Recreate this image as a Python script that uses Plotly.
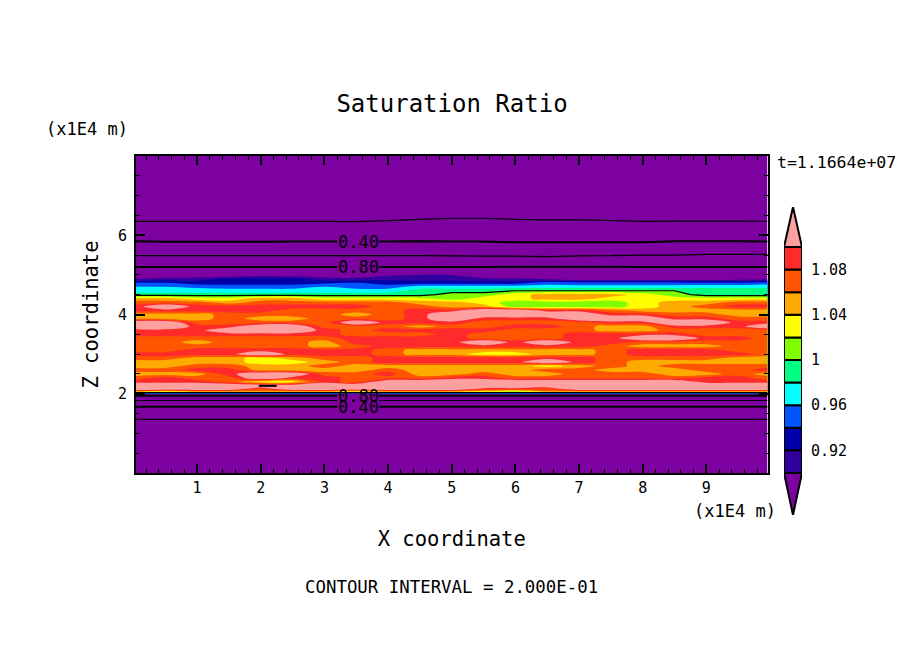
import plotly.graph_objects as go

P, R, O, A, Y, G, S, C, B, D, V = 1.13, 1.09, 1.07, 1.05, 1.03, 1.01, 0.99, 0.97, 0.95, 0.93, 0.91

x_coord = [0.04, 0.5, 1, 1.5, 2, 2.5, 3, 3.5, 4, 4.5, 5, 5.5, 6, 6.5, 7, 7.5, 8, 8.5, 9, 9.5, 9.96]
z_coord = [0, 1.354, 1.67, 1.83, 1.95, 2.03, 2.07, 2.12, 2.2, 2.3, 2.4, 2.5, 2.6, 2.7, 2.8, 2.9, 3.0, 3.1,
           3.2, 3.3, 3.4, 3.5, 3.6, 3.7, 3.8, 3.9, 4.0, 4.1, 4.2, 4.3, 4.4, 4.5, 4.6, 4.7, 4.8, 4.9, 5.0,
           5.1, 5.2, 5.5, 5.85, 6.4, 7.0, 8.0]

z_0 = [0.04] * 21
z_1354 = [0.2] * 21
z_167 = [0.4] * 21
z_183 = [0.6] * 21
z_195 = [0.8] * 21
z_203 = [1.0] * 21
z_207 = [O, A, O, O, O, O, O, A, O, O, O, A, Y, O, O, O, O, O, O, O, O]
z_212 = [P, P, P, P, O, P, P, P, P, P, P, R, R, O, P, P, P, P, P, P, P]
z_220 = [P] * 21
z_230 = [R, R, R, O, Y, Y, R, O, P, P, P, P, P, P, P, P, P, P, R, R, R]
z_240 = [O, R, O, O, P, R, R, O, O, O, R, R, O, O, O, O, O, O, R, R, O]
z_250 = [A, A, A, R, P, P, O, O, R, A, A, O, A, A, O, O, O, A, A, O, A]
z_260 = [O, O, R, R, A, A, A, A, O, A, A, A, A, O, O, A, A, A, O, O, R]
z_270 = [A, A, O, O, A, A, O, A, A, A, A, A, A, Y, A, O, A, O, O, O, O]
z_280 = [A, A, A, A, Y, Y, A, O, R, R, R, R, R, P, R, O, A, A, A, A, A]
z_290 = [O, O, A, A, Y, A, O, O, R, R, R, R, R, R, R, O, O, O, O, A, A]
z_300 = [R, R, R, R, P, R, R, R, O, A, A, Y, Y, A, A, O, R, R, R, R, O]
z_310 = [O, O, R, R, R, R, R, R, O, A, A, A, A, A, A, O, R, R, R, O, O]
z_320 = [O, O, O, O, O, O, A, O, R, R, R, R, R, R, R, O, A, A, A, O, O]
z_330 = [O, O, A, O, O, O, A, R, R, R, R, P, R, P, R, R, O, O, O, O, O]
z_340 = [O, O, O, O, O, O, O, R, R, R, R, O, O, O, R, R, P, P, R, R, O]
z_350 = [R, R, R, R, R, R, R, O, O, O, R, O, O, O, R, R, R, R, O, O, O]
z_360 = [R, R, R, P, P, P, R, O, R, R, R, R, O, O, O, A, A, O, O, O, O]
z_370 = [P, P, R, R, P, P, O, O, O, A, O, O, R, R, O, A, A, R, R, R, P]
z_380 = [P, P, O, O, O, O, O, P, R, R, R, O, O, O, O, R, R, P, P, R, R]
z_390 = [A, A, A, O, A, A, O, O, O, R, P, R, R, R, P, P, P, R, R, O, O]
z_400 = [A, A, A, O, O, O, O, A, O, R, P, P, P, P, P, R, R, O, O, A, A]
z_410 = [R, R, R, R, R, O, O, O, O, R, R, P, P, R, R, O, A, A, A, A, A]
z_420 = [R, P, R, R, R, R, R, R, O, O, A, A, G, G, G, G, Y, A, O, R, R]
z_430 = [O, O, O, A, O, O, O, O, O, A, A, Y, G, G, G, G, Y, A, A, O, O]
z_440 = [A, A, Y, Y, A, A, Y, Y, Y, Y, G, Y, Y, A, A, Y, Y, Y, Y, Y, Y]
z_450 = [S, S, S, S, S, S, S, S, S, S, G, G, Y, A, A, A, Y, G, S, S, S]
z_460 = [C, C, C, C, C, C, C, C, C, S, S, S, 1.0, 1.0, 1.0, 1.0, 1.0, 1.0, S, S, S]
z_470 = [0.96, 0.96, 0.955, B, B, B, 0.96, B, B, C, C, C, C, C, C, C, C, C, 0.975, 0.975, 0.975]
z_480 = [0.94, 0.94, D, D, D, D, 0.935, 0.94, D, D, D, D, D, B, 0.945, 0.945, 0.945, 0.945, 0.94, 0.94, B]
z_490 = [0.90, V, V, 0.925, 0.925, 0.925, V, 0.905, 0.915, V, V, 0.905, 0.905, 0.895, 0.88, 0.88, 0.88, 0.88, 0.885, 0.89, 0.89]
z_500 = [0.87, 0.87, 0.88, 0.88, 0.89, 0.885, 0.88, 0.885, 0.895, 0.90, 0.90, 0.88, 0.87, 0.86, 0.85, 0.85, 0.85, 0.85, 0.85, 0.85, 0.85]
z_510 = [0.84] * 21
z_520 = [0.80, 0.80, 0.80, 0.80, 0.80, 0.80, 0.80, 0.80, 0.80, 0.80, 0.80, 0.80, 0.805, 0.805, 0.805, 0.805, 0.80, 0.80, 0.80, 0.80, 0.80]
z_550 = [0.59, 0.59, 0.59, 0.59, 0.59, 0.59, 0.59, 0.59, 0.59, 0.59, 0.585, 0.58, 0.58, 0.57, 0.585, 0.59, 0.60, 0.60, 0.61, 0.61, 0.61]
z_585 = [0.40, 0.393, 0.393, 0.393, 0.393, 0.395, 0.395, 0.395, 0.395, 0.40, 0.395, 0.395, 0.385, 0.385, 0.385, 0.385, 0.385, 0.40, 0.40, 0.40, 0.395]
z_640 = [0.18, 0.18, 0.18, 0.18, 0.18, 0.18, 0.18, 0.178, 0.188, 0.20, 0.205, 0.205, 0.20, 0.195, 0.195, 0.19, 0.182, 0.182, 0.182, 0.182, 0.182]
z_700 = [0.10] * 21
z_800 = [0.04] * 21

saturation = [z_0, z_1354, z_167, z_183, z_195, z_203, z_207, z_212, z_220, z_230, z_240, z_250, z_260, z_270,
              z_280, z_290, z_300, z_310, z_320, z_330, z_340, z_350, z_360, z_370, z_380, z_390, z_400, z_410,
              z_420, z_430, z_440, z_450, z_460, z_470, z_480, z_490, z_500, z_510, z_520, z_550, z_585, z_640,
              z_700, z_800]

# small closed 1.2 contour near x = 2.1
spot_x = [1.97, 2.25]
spot_z = [2.2, 2.2]

band_colors = ["#7D00A0", "#3300A0", "#0000A8", "#0055FF", "#00FFFF", "#00FF80",
               "#80FF00", "#FFFF00", "#FFAA00", "#FF5500", "#FF2A2A", "#FFA0A0"]
bar_levels = [0.90, 0.92, 0.94, 0.96, 0.98, 1.00, 1.02, 1.04, 1.06, 1.08]
bar_ticks = [0.92, 0.96, 1.0, 1.04, 1.08]
bar_tick_text = ["0.92", "0.96", "1", "1.04", "1.08"]
x_ticks = [1, 2, 3, 4, 5, 6, 7, 8, 9]
z_ticks = [2, 4, 6]
level_labels = [(3.53, 5.83, "0.40"), (3.53, 5.2, "0.80"), (3.53, 1.95, "0.80"), (3.53, 1.67, "0.40")]

FONT = "DejaVu Sans Mono"
W, H = 904, 654
n = len(band_colors)
scale = []
for i, c in enumerate(band_colors):
    scale += [[i / n, c], [(i + 1) / n, c]]
black = [[0, "black"], [1, "black"]]

fig = go.Figure()
fig.add_trace(go.Contour(x=x_coord, y=z_coord, z=saturation, zmin=0.88, zmax=1.12, colorscale=scale,
                         autocontour=False, contours=dict(start=0.90, end=1.10, size=0.02, coloring="fill", showlines=False),
                         line=dict(width=0), showscale=False, hoverinfo="skip"))
fig.add_trace(go.Contour(x=x_coord, y=z_coord, z=saturation, colorscale=black, autocontour=False,
                         contours=dict(start=0.2, end=1.0, size=0.4, coloring="lines"),
                         line=dict(width=1.2, smoothing=0), showscale=False, hoverinfo="skip"))
fig.add_trace(go.Contour(x=x_coord, y=z_coord, z=saturation, colorscale=black, autocontour=False,
                         contours=dict(start=0.4, end=0.8, size=0.4, coloring="lines"),
                         line=dict(width=2, smoothing=0), showscale=False, hoverinfo="skip"))
fig.add_trace(go.Scatter(x=spot_x, y=spot_z, mode="lines", line=dict(color="black", width=2),
                         showlegend=False, hoverinfo="skip"))

# colour bar
fig.add_trace(go.Bar(x=[0] * len(bar_levels), base=bar_levels, y=[0.02] * len(bar_levels), width=1,
                     marker=dict(color=band_colors[1:-1], line=dict(color="black", width=2)),
                     xaxis="x2", yaxis="y2", showlegend=False, hoverinfo="skip"))
fig.add_trace(go.Scatter(x=[-0.5, 0, 0.5, -0.5], y=[1.10, 1.1354, 1.10, 1.10], mode="lines", fill="toself",
                         fillcolor=band_colors[-1], line=dict(color="black", width=2),
                         xaxis="x2", yaxis="y2", showlegend=False, hoverinfo="skip"))
fig.add_trace(go.Scatter(x=[-0.5, 0, 0.5, -0.5], y=[0.90, 0.8628, 0.90, 0.90], mode="lines", fill="toself",
                         fillcolor=band_colors[0], line=dict(color="black", width=2),
                         xaxis="x2", yaxis="y2", showlegend=False, hoverinfo="skip"))

axis_common = dict(showline=True, linecolor="black", linewidth=2, mirror="allticks", ticks="inside",
                   tickcolor="black", tickwidth=2, ticklen=9, showgrid=False, zeroline=False,
                   tickfont=dict(family=FONT, size=15, color="black"))

shapes = [dict(type="rect", x0=3.2, x1=3.86, y0=y0, y1=y1, xref="x", yref="y", fillcolor=band_colors[0], line_width=0)
          for y0, y1 in [(5.68, 5.98), (5.06, 5.36), (1.54, 2.0)]]

annotations = [dict(x=a, y=b, xref="x", yref="y", text=t, showarrow=False, font=dict(family=FONT, size=17, color="black"))
               for a, b, t in level_labels]


def note(px, py, text, size, anchor="center"):
    return dict(x=px / W, y=1 - py / H, xref="paper", yref="paper", text=text, showarrow=False, xanchor=anchor,
                yanchor="middle", font=dict(family=FONT, size=size, color="black"))


annotations += [
    note(44, 129, "(x1E4 m)", 17, "left"),
    note(778, 511, "(x1E4 m)", 17, "right"),
    note(775, 162, "t=1.1664e+07", 16.5, "left"),
    note(451, 587, "CONTOUR INTERVAL = 2.000E-01", 17.4),
]

fig.update_layout(
    width=W, height=H, margin=dict(l=0, r=0, t=0, b=0), paper_bgcolor="white", plot_bgcolor="white",
    font=dict(family=FONT, color="black"),
    title=dict(text="Saturation Ratio", x=452 / W, xanchor="center", y=1 - 104 / H, yanchor="middle",
               font=dict(family=FONT, size=24, color="black")),
    xaxis=dict(domain=[136 / W, 767.5 / W], range=[0.04, 9.96], tickvals=x_ticks, anchor="y",
               minor=dict(dtick=0.2, tick0=0, ticks="inside", ticklen=4, tickwidth=1, tickcolor="black"),
               title=dict(text="X coordinate", font=dict(family=FONT, size=20.5, color="black"), standoff=36), **axis_common),
    yaxis=dict(domain=[1 - 473 / H, 1 - 156 / H], range=[0, 8], tickvals=z_ticks, anchor="x", ticklabelstandoff=4,
               minor=dict(dtick=0.5, tick0=0, ticks="inside", ticklen=4, tickwidth=1, tickcolor="black"),
               title=dict(text="Z coordinate", font=dict(family=FONT, size=20.5, color="black"), standoff=14), **axis_common),
    xaxis2=dict(domain=[784 / W, 802 / W], range=[-0.5, 0.5], showticklabels=False, ticks="", showgrid=False,
                zeroline=False, anchor="y2"),
    yaxis2=dict(domain=[1 - 515 / H, 1 - 207 / H], range=[0.8628, 1.1354], side="right", anchor="x2",
                tickvals=bar_ticks, ticktext=bar_tick_text, ticks="", showgrid=False, zeroline=False,
                ticklabelstandoff=8, tickfont=dict(family=FONT, size=15, color="black")),
    shapes=shapes, annotations=annotations, showlegend=False,
)
fig.write_html("out.html", config={"displayModeBar": False}, post_script="document.body.style.margin='0';")
